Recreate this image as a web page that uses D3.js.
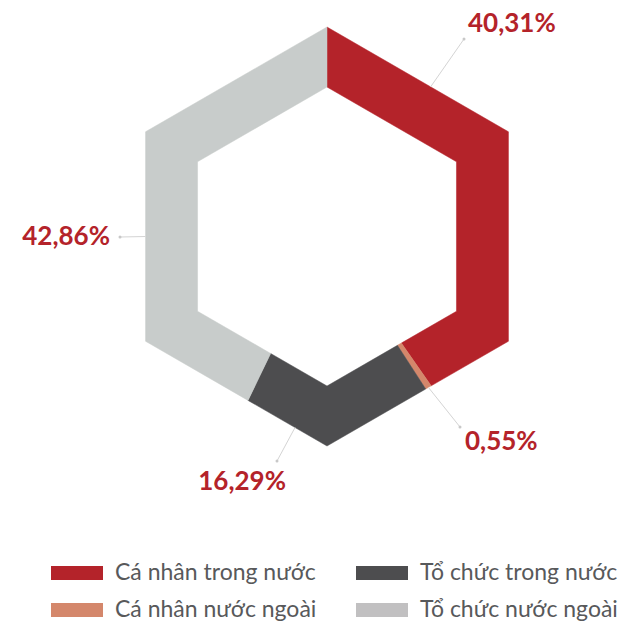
<!DOCTYPE html>
<html><head><meta charset="utf-8">
<script src="https://cdn.jsdelivr.net/npm/d3@7"></script>
<style>body{margin:0;background:#fff}svg{display:block}</style>
</head><body>
<svg id="c" width="624" height="628"></svg>
<script>
const categories = ["Cá nhân trong nước","Cá nhân nước ngoài","Tổ chức trong nước","Tổ chức nước ngoài"];
const values = [40.31, 0.55, 16.29, 42.86];
const valueLabels = ["40,31%","0,55%","16,29%","42,86%"];
const colors = ["#b4232a","#d4876b","#4d4d4f","#c8cccb"];
const legendColors = ["#b4232a","#d4876b","#4d4d4f","#c1c0c1"];

const svg = d3.select("#c");
const cx = 327, cy = 236.5, Rout = 209.5, Rin = 149.5;
const D = Math.PI/3;
function hexR(R, t){
  let m = ((t % D) + D) % D;
  return R*Math.cos(Math.PI/6)/Math.cos(m - Math.PI/6);
}
function pt(R, t){ const r = hexR(R,t); return [cx + r*Math.sin(t), cy - r*Math.cos(t)]; }

const pie = d3.pie().sort(null).value(d=>d)(values);
pie.forEach((a,i)=>{
  const outer=[pt(Rout,a.startAngle)];
  const verts=[];
  for(let k=Math.floor(a.startAngle/D)+1;k*D<a.endAngle;k++) verts.push(k*D);
  verts.forEach(v=>outer.push(pt(Rout,v)));
  outer.push(pt(Rout,a.endAngle));
  const inner=[pt(Rin,a.endAngle)];
  verts.slice().reverse().forEach(v=>inner.push(pt(Rin,v)));
  inner.push(pt(Rin,a.startAngle));
  svg.append("path").attr("d", d3.line()(outer.concat(inner))+"Z").attr("fill",colors[i])
     .attr("stroke",colors[i]).attr("stroke-width",0.5);
});

// label layout: anchor angle (deg) on outer hexagon, leader end, text position/anchor
const labelLayout = [
  {ang:34.7, end:[464,39], tx:468, ty:32, anchor:"start"},
  {ang:146.1, end:[460,427], tx:465, ty:450, anchor:"start"},
  {ang:189.5, end:[277,461], tx:286, ty:490, anchor:"end"},
  {ang:270, end:[120,237], tx:110, ty:245, anchor:"end"}
];
labelLayout.forEach((L,i)=>{
  const s = pt(Rout, L.ang*Math.PI/180);
  svg.append("line").attr("x1",s[0]).attr("y1",s[1]).attr("x2",L.end[0]).attr("y2",L.end[1])
     .attr("stroke","#d4d4d4").attr("stroke-width",1);
  svg.append("circle").attr("cx",L.end[0]).attr("cy",L.end[1]).attr("r",1.5).attr("fill","#c8c8c8");
  svg.append("text").attr("x",L.tx).attr("y",L.ty).attr("text-anchor",L.anchor)
     .attr("font-family","Lato, sans-serif").attr("font-weight","bold").attr("font-size",26)
     .attr("fill","#b4232a").text(valueLabels[i]);
});

// legend
const legPos = [[51,566],[51,603],[356,566],[356,603]];
categories.forEach((c,i)=>{
  const [x,y]=legPos[i];
  svg.append("rect").attr("x",x).attr("y",y).attr("width",52).attr("height",14).attr("fill",legendColors[i]);
  svg.append("text").attr("x",x+64).attr("y",y+14).attr("font-family","Lato, sans-serif")
     .attr("font-size",23).attr("fill","#58595b").text(c);
});
</script>
</body></html>
